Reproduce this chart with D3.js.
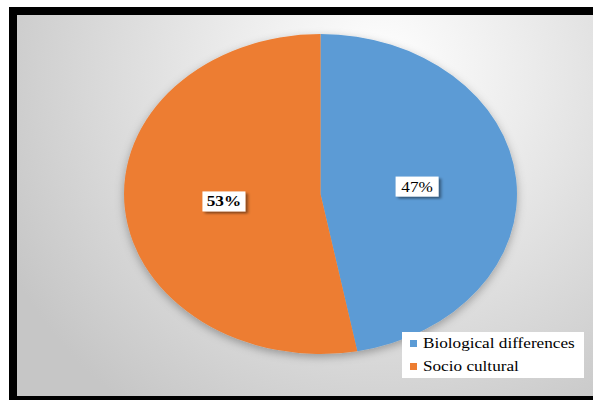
<!DOCTYPE html>
<html>
<head>
<meta charset="utf-8">
<script src="https://cdn.jsdelivr.net/npm/d3@7"></script>
<style>
  body { margin: 0; background: #fff; }
  svg { display: block; }
  text { font-family: "Liberation Serif", "Times New Roman", Times, "DejaVu Serif", serif; }
</style>
</head>
<body>
<svg id="chart"></svg>
<script>
    // chart values
    var categories = ["Biological differences", "Socio cultural"];
    var values = [47, 53];
    var labels = ["47%", "53%"];
    var colors = ["#5b9bd5", "#ed7d31"];

    var W = 593, H = 400;
    // the original picture is stretched sideways
    var sx = 1.228;
    var cx = 320.5 / sx, cy = 194, R = 160;

    var svg = d3.select("#chart")
        .attr("width", W)
        .attr("height", H);

    var defs = svg.append("defs");
    var grad = defs.append("radialGradient")
        .attr("id", "bg")
        .attr("gradientUnits", "userSpaceOnUse")
        .attr("cx", 380).attr("cy", 70).attr("r", 420);
    grad.append("stop").attr("offset", "0%").attr("stop-color", "#ffffff");
    grad.append("stop").attr("offset", "35%").attr("stop-color", "#ececec");
    grad.append("stop").attr("offset", "100%").attr("stop-color", "#c6c6c6");

    var shadow = defs.append("filter").attr("id", "pieShadow")
        .attr("x", "-20%").attr("y", "-20%").attr("width", "140%").attr("height", "140%");
    shadow.append("feDropShadow")
        .attr("dx", 0).attr("dy", 3).attr("stdDeviation", 4)
        .attr("flood-color", "#000").attr("flood-opacity", 0.3);

    var boxShadow = defs.append("filter").attr("id", "boxShadow")
        .attr("x", "-30%").attr("y", "-30%").attr("width", "160%").attr("height", "160%");
    boxShadow.append("feDropShadow")
        .attr("dx", 2).attr("dy", 2).attr("stdDeviation", 1.2)
        .attr("flood-color", "#000").attr("flood-opacity", 0.45);

    // background and black frame
    svg.append("rect")
        .attr("x", 13).attr("y", 11)
        .attr("width", 600).attr("height", 389)
        .attr("fill", "url(#bg)")
        .attr("stroke", "#000")
        .attr("stroke-width", 8);

    var g = svg.append("g")
        .attr("transform", "scale(" + sx + ",1)");

    var pie = d3.pie().sort(null).value(function (d) { return d; });
    var arcs = pie(values);
    var arc = d3.arc().innerRadius(0).outerRadius(R);
    var labelArc = d3.arc().innerRadius(0).outerRadius(158);

    var pieG = g.append("g")
        .attr("transform", "translate(" + cx + "," + cy + ")");

    pieG.append("g")
        .attr("filter", "url(#pieShadow)")
        .selectAll("path")
        .data(arcs)
        .enter()
        .append("path")
        .attr("d", arc)
        .attr("fill", function (d, i) { return colors[i]; });

    // data labels in white boxes
    var lab = pieG.selectAll(".lab")
        .data(arcs)
        .enter()
        .append("g")
        .attr("class", "lab")
        .attr("transform", function (d) {
            var c = labelArc.centroid(d);
            return "translate(" + c[0] + "," + c[1] + ")";
        });
    lab.append("rect")
        .attr("x", -17.5).attr("y", -10)
        .attr("width", 35).attr("height", 20)
        .attr("fill", "#fff")
        .attr("filter", "url(#boxShadow)");
    lab.append("text")
        .attr("text-anchor", "middle")
        .attr("dy", 5)
        .style("font-size", "14px")
        .style("font-weight", function (d, i) { return i == 1 ? "bold" : "normal"; })
        .style("fill", "#000")
        .text(function (d, i) { return labels[i]; });

    // legend
    var lx = 402 / sx, ly = 332;
    var leg = g.append("g")
        .attr("transform", "translate(" + lx + "," + ly + ")");
    leg.append("rect")
        .attr("width", 182 / sx).attr("height", 46)
        .attr("fill", "#fff");
    var item = leg.selectAll(".item")
        .data(categories)
        .enter()
        .append("g")
        .attr("class", "item")
        .attr("transform", function (d, i) { return "translate(0," + (i * 23) + ")"; });
    item.append("rect")
        .attr("x", 8 / sx).attr("y", 8)
        .attr("width", 7 / sx).attr("height", 7)
        .attr("fill", function (d, i) { return colors[i]; });
    item.append("text")
        .attr("x", 21 / sx).attr("y", 16)
        .style("font-size", "14px")
        .style("fill", "#000")
        .text(function (d) { return d; });
</script>
</body>
</html>
